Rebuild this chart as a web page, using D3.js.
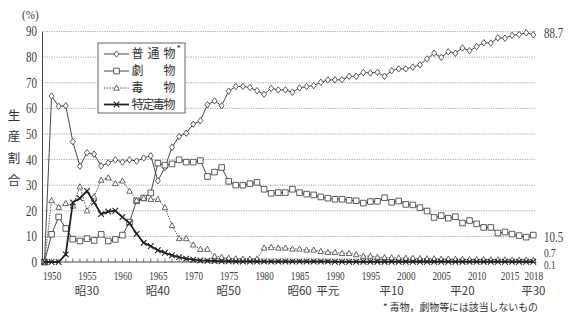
<!DOCTYPE html>
<html>
<head>
<meta charset="utf-8">
<script src="https://cdn.jsdelivr.net/npm/d3@7/dist/d3.min.js"></script>
<style>
  body { margin: 0; background: #fff; }
  svg { display: block; }
</style>
</head>
<body>
<svg id="chart" width="568" height="324"></svg>
<script>
// Production share by category (%), 1949–2018
const years = [1949,1950,1951,1952,1953,1954,1955,1956,1957,1958,1959,
  1960,1961,1962,1963,1964,1965,1966,1967,1968,1969,
  1970,1971,1972,1973,1974,1975,1976,1977,1978,1979,
  1980,1981,1982,1983,1984,1985,1986,1987,1988,1989,
  1990,1991,1992,1993,1994,1995,1996,1997,1998,1999,
  2000,2001,2002,2003,2004,2005,2006,2007,2008,2009,
  2010,2011,2012,2013,2014,2015,2016,2017,2018];

// 普通物 (ordinary substances)
const ordinary = [0,64.8,60.8,61.0,47.0,37.4,42.7,42.1,37.5,38.7,39.9,
  39.0,39.9,39.4,40.6,41.5,31.7,36.9,44.8,49.0,50.3,
  53.8,55.2,61.4,62.9,61.0,66.7,68.5,68.6,68.1,66.9,
  65.5,67.8,67.2,67.2,66.3,68.0,68.5,68.9,70.2,71.1,
  71.1,71.2,72.5,72.5,74.0,73.8,74.1,72.5,74.7,75.4,
  75.4,76.1,77.0,79.3,81.5,79.9,82.1,81.5,83.6,82.5,
  84.1,85.6,85.5,87.5,87.4,88.5,88.8,89.5,88.7];

// 劇物 (deleterious substances)
const deleterious = [0,10.8,17.6,13.1,8.9,8.2,9.1,8.4,10.8,8.2,8.8,
  10.5,15.6,23.9,25.0,27.0,38.6,37.8,38.3,39.9,39.0,
  39.0,39.6,33.4,35.1,36.9,31.5,30.0,30.0,30.6,31.1,
  28.4,26.8,27.1,27.1,28.4,27.1,26.5,26.2,25.4,24.9,
  24.5,24.5,24.1,23.9,23.0,23.6,23.7,25.1,23.3,23.8,
  22.5,22.3,21.2,19.9,17.4,18.1,17.1,17.7,15.2,16.2,
  14.9,13.5,13.5,11.3,11.7,10.9,10.3,9.7,10.5];

// 毒物 (poisonous substances)
const poisonous = [0,24.0,21.4,22.9,21.9,29.4,20.0,25.5,32.0,32.9,30.7,
  31.7,27.7,24.0,24.9,24.5,24.5,21.3,14.3,9.2,9.2,
  6.7,5.0,5.0,2.3,1.9,1.5,1.3,1.2,1.2,1.2,
  5.5,5.7,5.5,5.5,5.1,5.1,4.7,4.7,4.2,3.8,
  3.8,3.4,3.4,2.9,2.3,2.3,1.9,1.8,1.7,1.6,
  1.5,1.5,1.4,1.3,1.3,1.2,1.2,1.1,1.1,1.0,
  1.0,1.0,0.9,0.9,0.9,0.8,0.8,0.8,0.7];

// 特定毒物 (specified poisonous substances)
const specified = [0,0,0,3.0,23.3,24.9,27.7,23.3,18.7,19.7,20.0,
  17.5,15.2,11.0,7.5,6.2,4.6,3.6,2.6,1.9,1.3,
  0.9,0.6,0.5,0.4,0.3,0.3,0.2,0.2,0.2,0.2,
  0.2,0.2,0.2,0.2,0.2,0.2,0.2,0.2,0.2,0.2,
  0.1,0.1,0.1,0.1,0.1,0.1,0.1,0.1,0.1,0.1,
  0.1,0.1,0.1,0.1,0.1,0.1,0.1,0.1,0.1,0.1,
  0.1,0.1,0.1,0.1,0.1,0.1,0.1,0.1,0.1];

const yTicks = [0,10,20,30,40,50,60,70,80,90];
const yearTicks = [1950,1955,1960,1965,1970,1975,1980,1985,1990,1995,2000,2005,2010,2015,2018];
const eraTicks = [1955,1965,1975,1985,1989,1998,2008,2018];
const eraLabels = ["昭30","昭40","昭50","昭60","平元","平10","平20","平30"];

const seriesNames = ["普通物","劇物","毒物","特定毒物"];
const endLabels = ["88.7","10.5","0.7","0.1"];

const SERIF = '"Liberation Serif", "Times New Roman", "DejaVu Serif", serif';
const JP = '"Noto Sans CJK JP", sans-serif';

const svg = d3.select("#chart");
const plotL = 42, plotR = 536, plotT = 31.5, plotB = 262;
const x = d3.scaleLinear().domain([1949, 2018]).range([44.5, 533.3]);
const y = d3.scaleLinear().domain([0, 90]).range([plotB, plotT]);

// condensed serif numerals
function numStyle(sel, size, squeeze) {
  sel.style("font-family", SERIF).style("font-size", size + "px").attr("fill", "#3a3a3a");
  sel.each(function () {
    const w = this.getComputedTextLength();
    d3.select(this).attr("textLength", (w * squeeze).toFixed(1))
      .attr("lengthAdjust", "spacingAndGlyphs");
  });
}

// dotted horizontal gridlines
svg.append("g").selectAll("line").data(yTicks.filter(d => d > 0)).join("line")
  .attr("x1", plotL).attr("x2", plotR)
  .attr("y1", d => y(d)).attr("y2", d => y(d))
  .attr("stroke", "#8f8f8f").attr("stroke-width", 0.8)
  .attr("stroke-dasharray", "1.2,1.2");

// y axis
const yAxis = svg.append("g").attr("transform", `translate(${plotL},0)`)
  .call(d3.axisLeft(y).tickValues(yTicks).tickSize(0).tickPadding(5));
yAxis.select(".domain").attr("stroke", "#444").attr("stroke-width", 1);
numStyle(yAxis.selectAll("text"), 14, 0.78);

// x axis: baseline, yearly ticks, year labels
const xAxis = svg.append("g").attr("transform", `translate(0,${plotB})`)
  .call(d3.axisBottom(x).tickValues(yearTicks).tickSize(0).tickPadding(10).tickFormat(d3.format("d")));
xAxis.select(".domain").attr("d", `M${plotL},0H${plotR}`).attr("stroke", "#444");
numStyle(xAxis.selectAll("text"), 11.5, 0.8);
// the last two labels sit close together; ease 2015 slightly left
xAxis.selectAll(".tick").filter(d => d === 2015).select("text").attr("dx", -2.5);
svg.append("g").selectAll("line").data(years.slice(1)).join("line")
  .attr("x1", d => x(d)).attr("x2", d => x(d))
  .attr("y1", plotB).attr("y2", plotB - 3.5)
  .attr("stroke", "#555").attr("stroke-width", 0.8);

// era labels (second row)
svg.append("g").selectAll("text").data(eraTicks).join("text")
  .attr("x", d => x(d)).attr("y", 295)
  .attr("text-anchor", "middle")
  .style("font-family", JP).style("font-size", "11.5px").attr("fill", "#3a3a3a")
  .text((d, i) => eraLabels[i]);

// marker shapes
const markers = {
  diamond: "M0,-3.2L2.5,0L0,3.2L-2.5,0Z",
  square: "M-2.8,-2.8H2.8V2.8H-2.8Z",
  triangle: "M0,-3L2.8,2.2H-2.8Z",
  cross: "M-2.8,-2.8L2.8,2.8M-2.8,2.8L2.8,-2.8"
};

const series = [
  { values: ordinary, marker: "diamond", width: 0.9, dash: null, color: "#333" },
  { values: deleterious, marker: "square", width: 0.9, dash: null, color: "#333" },
  { values: poisonous, marker: "triangle", width: 0.9, dash: "1.5,1.2", color: "#444" },
  { values: specified, marker: "cross", width: 1.8, dash: null, color: "#222" }
];

const line = d3.line().x((d, i) => x(years[i])).y(d => y(d));

series.forEach(s => {
  const g = svg.append("g");
  g.append("path").attr("d", line(s.values))
    .attr("fill", "none").attr("stroke", s.color)
    .attr("stroke-width", s.width)
    .attr("stroke-dasharray", s.dash);
  g.selectAll("path.m").data(s.values).join("path").attr("class", "m")
    .attr("transform", (d, i) => `translate(${x(years[i])},${y(d)})`)
    .attr("d", markers[s.marker])
    .attr("fill", s.marker === "cross" ? "none" : "#fff")
    .attr("stroke", s.color)
    .attr("stroke-width", s.marker === "cross" ? 1.1 : 0.8);
});

// end-of-series value labels
const endY = [33.5, 237.5, 252.5, 265];
const endSize = [14, 14, 12, 12];
const ends = svg.append("g").selectAll("text").data(endLabels).join("text")
  .attr("x", 544).attr("y", (d, i) => endY[i])
  .attr("dy", "0.35em")
  .text(d => d);
ends.each(function (d, i) { numStyle(d3.select(this), endSize[i], 0.78); });

// legend
const lg = svg.append("g");
lg.append("rect").attr("x", 98).attr("y", 43).attr("width", 87).attr("height", 70)
  .attr("fill", "#fff").attr("stroke", "#555").attr("stroke-width", 0.9);
const rowY = [54, 71, 88, 104.5];
series.forEach((s, i) => {
  lg.append("line").attr("x1", 104).attr("x2", 129)
    .attr("y1", rowY[i]).attr("y2", rowY[i])
    .attr("stroke", s.color).attr("stroke-width", s.width)
    .attr("stroke-dasharray", s.dash);
  lg.append("path").attr("transform", `translate(116.5,${rowY[i]})`)
    .attr("d", markers[s.marker])
    .attr("fill", s.marker === "cross" ? "none" : "#fff")
    .attr("stroke", s.color)
    .attr("stroke-width", s.marker === "cross" ? 1.1 : 0.8);
  lg.append("text")
    .attr("x", 131.5).attr("y", rowY[i]).attr("dy", "0.36em")
    .style("font-family", JP).style("font-size", "12px").attr("fill", "#333")
    .attr("textLength", 44).attr("lengthAdjust", "spacing")
    .text(seriesNames[i]);
});
lg.append("text").attr("x", 176.5).attr("y", 52)
  .style("font-family", JP).style("font-size", "9px").attr("fill", "#333").text("*");

// axis titles
const pct = svg.append("text").attr("x", 22).attr("y", 19).text("(%)");
numStyle(pct, 13, 0.85);
const yTitle = Array.from("生産割合");
const yTitleY = [115, 136, 158, 180];
svg.append("g").selectAll("text").data(yTitle).join("text")
  .attr("x", 14).attr("y", (d, i) => yTitleY[i])
  .attr("dy", "0.36em").attr("text-anchor", "middle")
  .style("font-family", JP).style("font-size", "12.5px").attr("fill", "#333")
  .text(d => d);

// footnote
svg.append("text").attr("x", 383).attr("y", 311)
  .style("font-family", JP).style("font-size", "10px").attr("fill", "#333")
  .attr("textLength", 155).attr("lengthAdjust", "spacingAndGlyphs")
  .text("* 毒物，劇物等には該当しないもの");
</script>
</body>
</html>
